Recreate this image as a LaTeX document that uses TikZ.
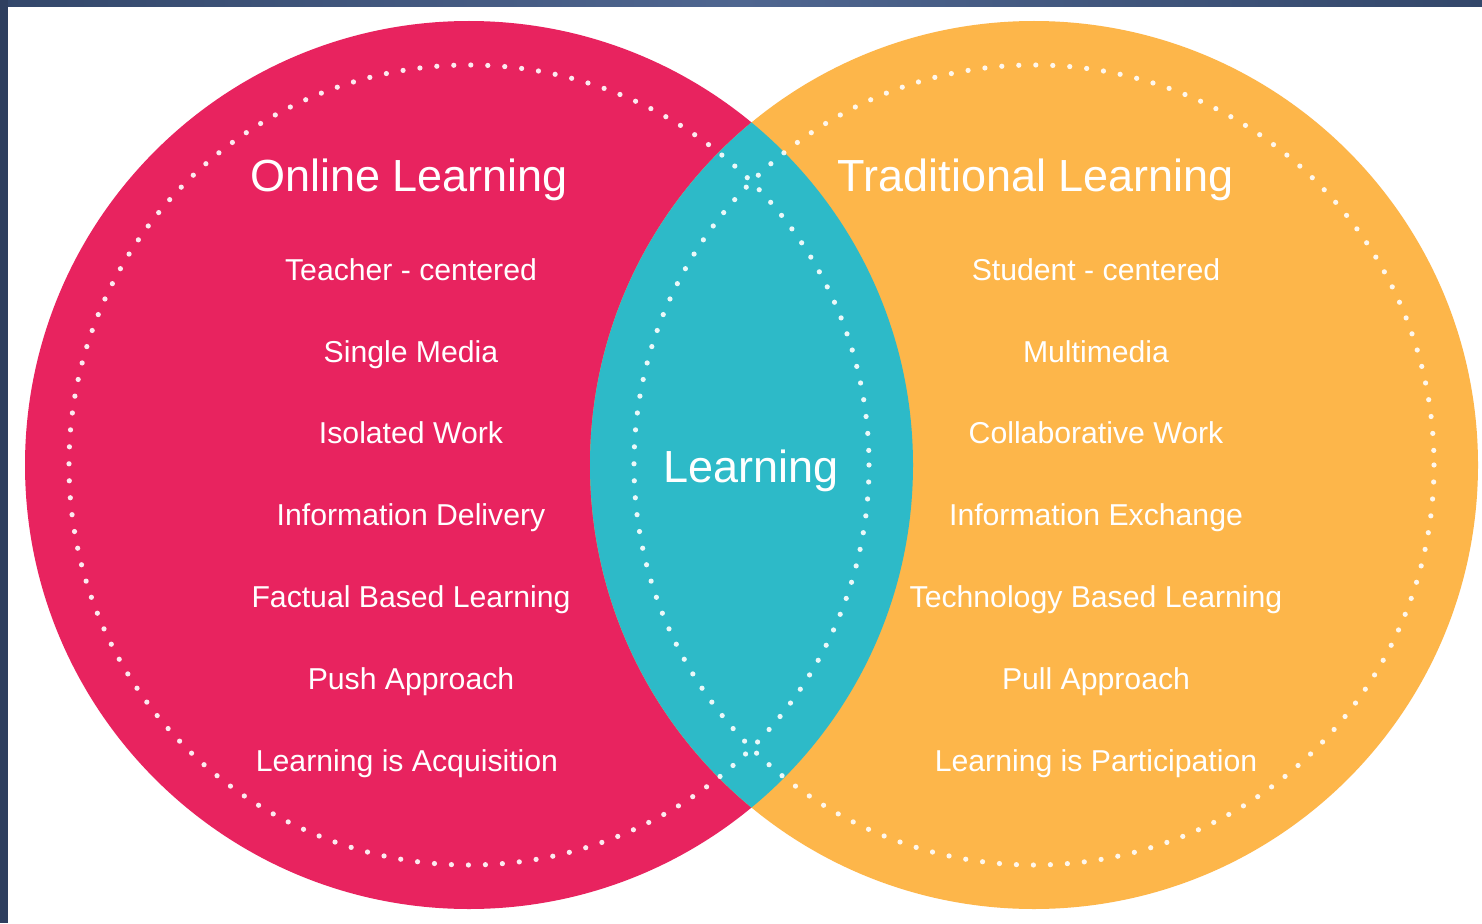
\documentclass[tikz,border=0pt]{standalone}
\usepackage{fontspec}
\setmainfont{Liberation Sans}
\definecolor{pinkc}{HTML}{E8235F}
\definecolor{orangec}{HTML}{FDB64A}
\definecolor{tealc}{HTML}{2DBAC8}
\definecolor{navyA}{HTML}{33476A}
\definecolor{navyB}{HTML}{4F6690}
\definecolor{navyL}{HTML}{2E3F5F}
\begin{document}
\begin{tikzpicture}[x=1pt,y=-1pt,
  dotring/.style={white, opacity=0.9, line width=5.2pt, line cap=round, dash pattern=on 0pt off 17pt},
  title/.style={text=white, font=\fontsize{45}{48}\selectfont, inner sep=0pt, anchor=base},
  item/.style={text=white, font=\fontsize{30.2}{32}\selectfont, inner sep=0pt, anchor=base}]
\useasboundingbox (0,0) rectangle (1482,923);
\fill[white] (0,0) rectangle (1482,923);
% frame
\shade[left color=navyA, right color=navyA, middle color=navyB] (0,0) rectangle (1482,7);
\fill[navyL] (0,0) rectangle (8,923);
% circles
\fill[pinkc] (469,465) circle (444);
\fill[orangec] (1034,465) circle (444);
\begin{scope}
  \clip (469,465) circle (444);
  \fill[tealc] (1034,465) circle (444);
\end{scope}
% dotted rings
\draw[dotring] (469,465) circle (400);
\draw[dotring] (1034,465) circle (400);
% titles
\node[title] (onl) at (409,191) {Online Learning};
\node[title] (trad) at (1036,191) {Traditional Learning};
\node[title] (lrn) at (751,482) {Learning};
% left items
\node[item] (l1) at (411,280) {Teacher - centered};
\node[item] (l2) at (411,362) {Single Media};
\node[item] (l3) at (411,443) {Isolated Work};
\node[item] (l4) at (411,525) {Information Delivery};
\node[item] (l5) at (411,607) {Factual Based Learning};
\node[item] (l6) at (411,689) {Push Approach};
\node[item] (l7) at (407,771) {Learning is Acquisition};
% right items
\node[item] (r1) at (1096,280) {Student - centered};
\node[item] (r2) at (1096,362) {Multimedia};
\node[item] (r3) at (1096,443) {Collaborative Work};
\node[item] (r4) at (1096,525) {Information Exchange};
\node[item] (r5) at (1096,607) {Technology Based Learning};
\node[item] (r6) at (1096,689) {Pull Approach};
\node[item] (r7) at (1096,771) {Learning is Participation};
\end{tikzpicture}
\end{document}
